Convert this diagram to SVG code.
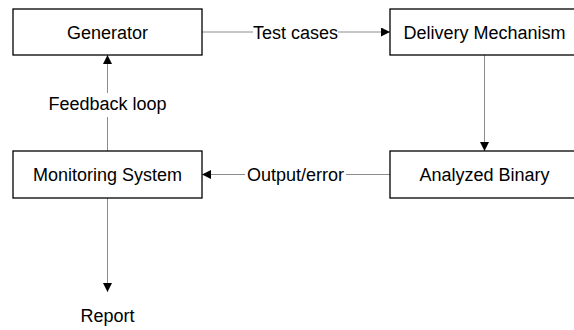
<svg xmlns="http://www.w3.org/2000/svg" width="574" height="330" viewBox="0 0 574 330">
  <defs>
    <marker id="arrow" viewBox="0 0 10 10" refX="10" refY="5" markerWidth="9" markerHeight="9" markerUnits="userSpaceOnUse" orient="auto">
      <path d="M0,0 L10,5 L0,10 Z" fill="#000"/>
    </marker>
  </defs>
  <style>
    .box { fill: #fff; stroke: #000; stroke-width: 1.3; }
    .label { font-family: "Liberation Sans", Arial, sans-serif; font-size: 18px; fill: #000; text-anchor: middle; }
    .edge { fill: none; stroke: #8c8c8c; stroke-width: 1; }
  </style>
  <rect width="574" height="330" fill="#fff"/>

  <g id="connectors">
    <!-- Generator -> Delivery Mechanism -->
    <path class="edge" d="M202,32 H253"/>
    <path class="edge" d="M338,32 H390" marker-end="url(#arrow)"/>
    <text class="label" x="295.5" y="38.5">Test cases</text>
    <!-- Delivery Mechanism -> Analyzed Binary -->
    <path class="edge" d="M484.5,55 V151" marker-end="url(#arrow)"/>
    <!-- Analyzed Binary -> Monitoring System -->
    <path class="edge" d="M390,174.5 H346"/>
    <path class="edge" d="M245,174.5 H202" marker-end="url(#arrow)"/>
    <text class="label" x="295.5" y="181">Output/error</text>
    <!-- Monitoring System -> Generator -->
    <path class="edge" d="M107.5,93 V55" marker-end="url(#arrow)"/>
    <path class="edge" d="M107.5,151 V117"/>
    <text class="label" x="107.5" y="110">Feedback loop</text>
    <!-- Monitoring System -> Report -->
    <path class="edge" d="M107.5,198 V292" marker-end="url(#arrow)"/>
  </g>

  <g id="generator">
    <rect class="box" x="13" y="9" width="189" height="46"/>
    <text class="label" x="107.5" y="38.5">Generator</text>
  </g>
  <g id="delivery-mechanism">
    <rect class="box" x="390" y="9" width="189" height="46"/>
    <text class="label" x="484.5" y="38.5">Delivery Mechanism</text>
  </g>
  <g id="monitoring-system">
    <rect class="box" x="13" y="151" width="189" height="47"/>
    <text class="label" x="107.5" y="181">Monitoring System</text>
  </g>
  <g id="analyzed-binary">
    <rect class="box" x="390" y="151" width="189" height="47"/>
    <text class="label" x="484.5" y="181">Analyzed Binary</text>
  </g>
  <g id="report">
    <text class="label" x="107.5" y="322">Report</text>
  </g>
</svg>
